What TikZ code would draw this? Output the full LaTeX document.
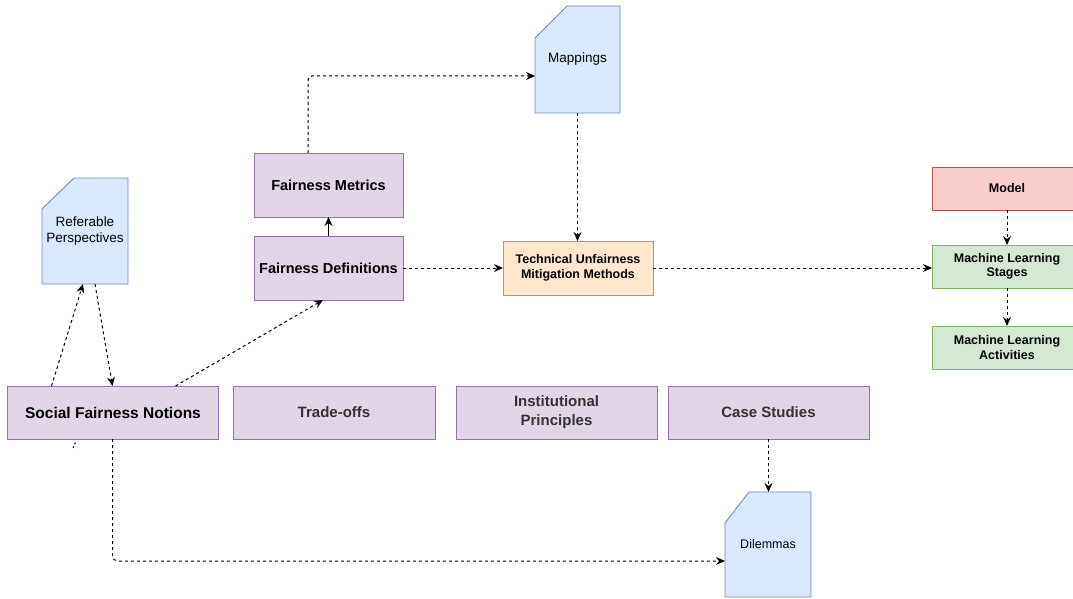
\documentclass[tikz,border=0pt]{standalone}
\usepackage{fontspec}
\setmainfont{Liberation Sans}
\usetikzlibrary{arrows.meta,backgrounds}
\definecolor{pfill}{HTML}{E1D5E7}\definecolor{pdraw}{HTML}{9673A6}
\definecolor{bfill}{HTML}{DAE8FC}\definecolor{bdraw}{HTML}{6C8EBF}
\definecolor{ofill}{HTML}{FFE6CC}\definecolor{odraw}{HTML}{D79B00}
\definecolor{rfill}{HTML}{F8CECC}\definecolor{rdraw}{HTML}{B85450}
\definecolor{gfill}{HTML}{D5E8D4}\definecolor{gdraw}{HTML}{82B366}
\definecolor{txtgray}{HTML}{333333}
\tikzset{
  x=1pt, y=-1pt,
  box/.style={rectangle, draw, line width=0.9pt, inner sep=0pt, outer sep=0pt, align=center},
  pbox/.style={box, fill=pfill, draw=pdraw},
  obox/.style={box, fill=ofill, draw=odraw, font=\fontsize{12.5}{14.5}\selectfont\bfseries},
  rbox/.style={box, fill=rfill, draw=rdraw, font=\fontsize{12.5}{14.5}\selectfont\bfseries},
  gbox/.style={box, fill=gfill, draw=gdraw, font=\fontsize{12.5}{14.5}\selectfont\bfseries},
  docnode/.style={rectangle, inner sep=0pt, outer sep=0pt, align=center, font=\fontsize{13.5}{15.5}\selectfont},
  docshape/.style={fill=bfill, draw=bdraw, line width=0.9pt, line join=miter},
  conn/.style={line width=1pt, dash pattern=on 3pt off 3pt, -{Stealth[length=9pt,width=8pt,inset=3pt]}},
  solidconn/.style={line width=1pt, -{Stealth[length=9pt,width=8pt,inset=3pt]}},
}
\begin{document}
\begin{tikzpicture}
\useasboundingbox (0,0) rectangle (1073,599);

% purple boxes
\node[pbox, minimum width=211pt, minimum height=53pt, font=\fontsize{15.5}{18}\selectfont\bfseries] (sfn) at (113,412.5) {Social Fairness Notions};
\node[pbox, minimum width=202pt, minimum height=53pt, font=\fontsize{15}{19}\selectfont\bfseries, text=txtgray] (to) at (334,412.5) {Trade-offs};
\node[pbox, minimum width=201pt, minimum height=53pt, font=\fontsize{15}{19}\selectfont\bfseries, text=txtgray] (ip) at (556.5,412.5) {Institutional\\Principles};
\node[pbox, minimum width=201pt, minimum height=53pt, font=\fontsize{15}{19}\selectfont\bfseries, text=txtgray] (cs) at (768.5,412.5) {Case Studies};
\node[pbox, minimum width=149pt, minimum height=64pt, font=\fontsize{14.5}{17}\selectfont\bfseries] (fm) at (328.5,185) {Fairness Metrics};
\node[pbox, minimum width=149pt, minimum height=64pt, font=\fontsize{14.5}{17}\selectfont\bfseries] (fd) at (328.5,268) {Fairness Definitions};

% orange, red, green
\node[obox, minimum width=150pt, minimum height=54pt] (tumm) at (578,268) {Technical Unfairness\\Mitigation Methods};
\node[rbox, minimum width=150pt, minimum height=43pt] (model) at (1007,188.5) {Model};
\node[gbox, minimum width=150pt, minimum height=43pt] (mls) at (1007,266.5) {Machine Learning\\Stages};
\node[gbox, minimum width=150pt, minimum height=43pt] (mla) at (1007,347.5) {Machine Learning\\Activities};

% document shapes
\node[docnode, minimum width=86pt, minimum height=106pt] (ref) at (85,231) {Referable\\Perspectives};
\node[docnode, minimum width=85pt, minimum height=107pt] (map) at (577.5,59.5) {Mappings};
\node[docnode, minimum width=86pt, minimum height=105pt, font=\fontsize{12.5}{14}\selectfont] (dil) at (768,544.5) {Dilemmas};
\begin{scope}[on background layer]
\draw[docshape] ([yshift=-31pt]ref.north west) -- ([xshift=32pt]ref.north west) -- (ref.north east) -- (ref.south east) -- (ref.south west) -- cycle;
\draw[docshape] ([yshift=-32pt]map.north west) -- ([xshift=32pt]map.north west) -- (map.north east) -- (map.south east) -- (map.south west) -- cycle;
\draw[docshape] ([yshift=-31pt]dil.north west) -- ([xshift=24pt]dil.north west) -- (dil.north east) -- (dil.south east) -- (dil.south west) -- cycle;
\end{scope}

% connectors
\draw[conn] ([xshift=44pt]sfn.north west) -- ([xshift=-2pt]ref.south);
\draw[conn] ([xshift=10pt]ref.south) -- ([xshift=105pt]sfn.north west);
\draw[conn] ([xshift=168pt]sfn.north west) -- ([xshift=-5.5pt]fd.south);
\draw[solidconn] (fd.north) -- (fm.south);
\draw[conn, rounded corners=4pt] ([xshift=-20.5pt]fm.north) |- ([yshift=-16.5pt]map.west);
\draw[conn] (map.south) -- (map.south |- tumm.north);
\draw[conn] (fd.east) -- (tumm.west);
\draw[conn] (tumm.east) -- (tumm.east -| mls.west);
\draw[conn] (model.south) -- (mls.north);
\draw[conn] (mls.south) -- (mla.north);
\draw[conn] (cs.south) -- (cs.south |- dil.north);
\draw[conn, rounded corners=5pt] ([xshift=105pt]sfn.south west) |- ([yshift=-16.5pt]dil.west);
% stray stub below Social Fairness Notions
\coordinate (stubA) at (73,448);
\coordinate (stubB) at (76,441);
\draw[line width=1pt, dash pattern=on 2pt off 2pt] (stubA) -- (stubB);
\end{tikzpicture}
\end{document}
